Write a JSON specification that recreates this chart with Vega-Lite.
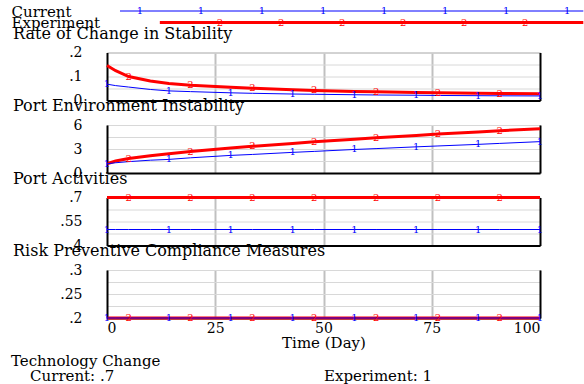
{
  "$schema": "https://vega.github.io/schema/vega-lite/v6.json",
  "padding": {"left": 11, "top": 4, "right": 0, "bottom": 0},
  "background": "white",
  "datasets": {
    "series": [
      {"t": 0, "stab_c": 0.068, "stab_e": 0.146, "env_c": 1.15, "env_e": 1.15, "act_c": 0.5, "act_e": 0.7, "risk_c": 0.2, "risk_e": 0.2},
      {"t": 2, "stab_c": 0.062, "stab_e": 0.124, "env_c": 1.28, "env_e": 1.5, "act_c": 0.5, "act_e": 0.7, "risk_c": 0.2, "risk_e": 0.2},
      {"t": 5, "stab_c": 0.056, "stab_e": 0.1, "env_c": 1.42, "env_e": 1.8, "act_c": 0.5, "act_e": 0.7, "risk_c": 0.2, "risk_e": 0.2},
      {"t": 10, "stab_c": 0.046, "stab_e": 0.081, "env_c": 1.6, "env_e": 2.15, "act_c": 0.5, "act_e": 0.7, "risk_c": 0.2, "risk_e": 0.2},
      {"t": 14.29, "stab_c": 0.04, "stab_e": 0.071, "env_c": 1.7, "env_e": 2.4, "act_c": 0.5, "act_e": 0.7, "risk_c": 0.2, "risk_e": 0.2},
      {"t": 19.29, "stab_c": 0.037, "stab_e": 0.064, "env_c": 1.9, "env_e": 2.68, "act_c": 0.5, "act_e": 0.7, "risk_c": 0.2, "risk_e": 0.2},
      {"t": 28.57, "stab_c": 0.032, "stab_e": 0.055, "env_c": 2.2, "env_e": 3.12, "act_c": 0.5, "act_e": 0.7, "risk_c": 0.2, "risk_e": 0.2},
      {"t": 33.57, "stab_c": 0.03, "stab_e": 0.051, "env_c": 2.32, "env_e": 3.33, "act_c": 0.5, "act_e": 0.7, "risk_c": 0.2, "risk_e": 0.2},
      {"t": 42.86, "stab_c": 0.027, "stab_e": 0.045, "env_c": 2.58, "env_e": 3.7, "act_c": 0.5, "act_e": 0.7, "risk_c": 0.2, "risk_e": 0.2},
      {"t": 47.86, "stab_c": 0.026, "stab_e": 0.042, "env_c": 2.7, "env_e": 3.9, "act_c": 0.5, "act_e": 0.7, "risk_c": 0.2, "risk_e": 0.2},
      {"t": 57.14, "stab_c": 0.024, "stab_e": 0.038, "env_c": 2.94, "env_e": 4.22, "act_c": 0.5, "act_e": 0.7, "risk_c": 0.2, "risk_e": 0.2},
      {"t": 62.14, "stab_c": 0.023, "stab_e": 0.036, "env_c": 3.05, "env_e": 4.4, "act_c": 0.5, "act_e": 0.7, "risk_c": 0.2, "risk_e": 0.2},
      {"t": 71.43, "stab_c": 0.022, "stab_e": 0.033, "env_c": 3.27, "env_e": 4.7, "act_c": 0.5, "act_e": 0.7, "risk_c": 0.2, "risk_e": 0.2},
      {"t": 76.43, "stab_c": 0.021, "stab_e": 0.032, "env_c": 3.38, "env_e": 4.86, "act_c": 0.5, "act_e": 0.7, "risk_c": 0.2, "risk_e": 0.2},
      {"t": 85.71, "stab_c": 0.02, "stab_e": 0.03, "env_c": 3.58, "env_e": 5.13, "act_c": 0.5, "act_e": 0.7, "risk_c": 0.2, "risk_e": 0.2},
      {"t": 90.71, "stab_c": 0.0195, "stab_e": 0.029, "env_c": 3.7, "env_e": 5.28, "act_c": 0.5, "act_e": 0.7, "risk_c": 0.2, "risk_e": 0.2},
      {"t": 100, "stab_c": 0.019, "stab_e": 0.028, "env_c": 3.92, "env_e": 5.52, "act_c": 0.5, "act_e": 0.7, "risk_c": 0.2, "risk_e": 0.2}
    ],
    "legendLine": [
      {"series": "Current", "t": 3},
      {"series": "Current", "t": 110},
      {"series": "Experiment", "t": 12.2},
      {"series": "Experiment", "t": 110}
    ],
    "legendMarks": [
      {"series": "Current", "t": 7.6}, {"series": "Current", "t": 21.7}, {"series": "Current", "t": 35.8}, {"series": "Current", "t": 49.9},
      {"series": "Current", "t": 64.0}, {"series": "Current", "t": 78.1}, {"series": "Current", "t": 92.2}, {"series": "Current", "t": 106.3},
      {"series": "Experiment", "t": 26.1}, {"series": "Experiment", "t": 40.2}, {"series": "Experiment", "t": 54.3},
      {"series": "Experiment", "t": 68.4}, {"series": "Experiment", "t": 82.5}, {"series": "Experiment", "t": 96.6}
    ]
  },
  "data": {"name": "series"},
  "title": {
    "text": "Technology Change",
    "subtitle": "\u200b\u00a0\u00a0\u00a0\u00a0Current: .7\u00a0\u00a0\u00a0\u00a0\u00a0\u00a0\u00a0\u00a0\u00a0\u00a0\u00a0\u00a0\u00a0\u00a0\u00a0\u00a0\u00a0\u00a0\u00a0\u00a0\u00a0\u00a0\u00a0\u00a0\u00a0\u00a0\u00a0\u00a0\u00a0\u00a0\u00a0\u00a0\u00a0\u00a0\u00a0\u00a0\u00a0\u00a0\u00a0\u00a0\u00a0\u00a0\u00a0\u00a0Experiment: 1",
    "orient": "bottom", "anchor": "start", "frame": "bounds", "dx": 0, "offset": 3,
    "fontSize": 15, "subtitleFontSize": 15, "subtitleFont": "DejaVu Serif", "subtitleColor": "black", "subtitlePadding": 0, "baseline": "top"
  },
  "bounds": "flush",
  "spacing": 24.5,
  "vconcat": [
    {
      "width": 433, "height": 16.5,
      "view": {"stroke": null},
      "layer": [
        {
          "data": {"name": "legendLine"},
          "mark": {"type": "line", "clip": false, "strokeCap": "butt"},
          "encoding": {
            "x": {"field": "t", "type": "quantitative", "scale": {"domain": [0, 100], "nice": false}, "axis": null},
            "y": {"field": "series", "type": "nominal", "scale": {"type": "point", "domain": ["Current", "Experiment"], "range": [0, 11.5], "padding": 0},
                  "axis": {"orient": "left", "domain": false, "grid": false, "ticks": false, "labelAlign": "left", "labelBaseline": "middle", "labelPadding": 96, "labelFontSize": 15, "title": null}},
            "color": {"field": "series", "type": "nominal", "scale": {"domain": ["Current", "Experiment"], "range": ["#0000ff", "#ff0000"]}, "legend": null},
            "strokeWidth": {"field": "series", "type": "nominal", "scale": {"domain": ["Current", "Experiment"], "range": [1, 3]}, "legend": null}
          }
        },
        {
          "data": {"name": "legendMarks"},
          "transform": [{"filter": "datum.series == 'Current'"}],
          "mark": {"type": "text", "text": "1", "color": "#0000ff", "clip": false, "fontSize": 10, "baseline": "middle"},
          "encoding": {
            "x": {"field": "t", "type": "quantitative"},
            "y": {"field": "series", "type": "nominal"}
          }
        },
        {
          "data": {"name": "legendMarks"},
          "transform": [{"filter": "datum.series == 'Experiment'"}],
          "mark": {"type": "text", "text": "2", "color": "#ff0000", "clip": false, "fontSize": 10, "baseline": "middle"},
          "encoding": {
            "x": {"field": "t", "type": "quantitative"},
            "y": {"field": "series", "type": "nominal"}
          }
        }
      ]
    },
    {
      "width": 433, "height": 48,
      "title": {"text": "Rate of Change in Stability"},
      "resolve": {"axis": {"y": "independent"}},
      "layer": [
        {"mark": {"type": "line", "color": "#ff0000", "strokeWidth": 3, "clip": false},
         "encoding": {
           "x": {"field": "t", "type": "quantitative", "scale": {"domain": [0, 100], "nice": false},
                 "axis": {"values": [0, 25, 50, 75, 100], "labels": false, "title": null, "grid": true, "gridWidth": 2,
                          "gridColor": {"condition": {"test": "datum.value == 0 || datum.value == 100", "value": "transparent"}, "value": "#c0c0c0"}}},
           "y": {"field": "stab_e", "type": "quantitative", "scale": {"domain": [0, 0.2], "nice": false},
                 "axis": {"values": [0, 0.05, 0.1, 0.15, 0.2], "title": null, "grid": true,
                          "labelExpr": "datum.value == 0 ? '0' : datum.value == 0.1 ? '.1' : datum.value == 0.2 ? '.2' : ''"}}
         }},
        {"mark": {"type": "line", "color": "#0000ff", "strokeWidth": 1, "clip": false},
         "encoding": {
           "x": {"field": "t", "type": "quantitative"},
           "y": {"field": "stab_c", "type": "quantitative", "axis": {"orient": "right", "labels": false, "grid": false, "title": null}}
         }},
        {"transform": [{"filter": "indexof([5,19.29,33.57,47.86,62.14,76.43,90.71], datum.t) >= 0"}],
         "mark": {"type": "text", "text": "2", "color": "#ff0000", "fontSize": 10, "baseline": "middle", "clip": false},
         "encoding": {"x": {"field": "t", "type": "quantitative"}, "y": {"field": "stab_e", "type": "quantitative", "axis": null}}},
        {"transform": [{"filter": "indexof([0,14.29,28.57,42.86,57.14,71.43,85.71,100], datum.t) >= 0"}],
         "mark": {"type": "text", "text": "1", "color": "#0000ff", "fontSize": 10, "baseline": "middle", "clip": false},
         "encoding": {"x": {"field": "t", "type": "quantitative"}, "y": {"field": "stab_c", "type": "quantitative", "axis": null}}}
      ]
    },
    {
      "width": 433, "height": 48,
      "title": {"text": "Port Environment Instability"},
      "resolve": {"axis": {"y": "independent"}},
      "layer": [
        {"mark": {"type": "line", "color": "#ff0000", "strokeWidth": 3, "clip": false},
         "encoding": {
           "x": {"field": "t", "type": "quantitative", "scale": {"domain": [0, 100], "nice": false},
                 "axis": {"values": [0, 25, 50, 75, 100], "labels": false, "title": null, "grid": true, "gridWidth": 2,
                          "gridColor": {"condition": {"test": "datum.value == 0 || datum.value == 100", "value": "transparent"}, "value": "#c0c0c0"}}},
           "y": {"field": "env_e", "type": "quantitative", "scale": {"domain": [0, 6], "nice": false},
                 "axis": {"values": [0, 1.5, 3, 4.5, 6], "title": null, "grid": true,
                          "labelExpr": "datum.value == 0 ? '0' : datum.value == 3 ? '3' : datum.value == 6 ? '6' : ''"}}
         }},
        {"mark": {"type": "line", "color": "#0000ff", "strokeWidth": 1, "clip": false},
         "encoding": {
           "x": {"field": "t", "type": "quantitative"},
           "y": {"field": "env_c", "type": "quantitative", "axis": {"orient": "right", "labels": false, "grid": false, "title": null}}
         }},
        {"transform": [{"filter": "indexof([5,19.29,33.57,47.86,62.14,76.43,90.71], datum.t) >= 0"}],
         "mark": {"type": "text", "text": "2", "color": "#ff0000", "fontSize": 10, "baseline": "middle", "clip": false},
         "encoding": {"x": {"field": "t", "type": "quantitative"}, "y": {"field": "env_e", "type": "quantitative", "axis": null}}},
        {"transform": [{"filter": "indexof([0,14.29,28.57,42.86,57.14,71.43,85.71,100], datum.t) >= 0"}],
         "mark": {"type": "text", "text": "1", "color": "#0000ff", "fontSize": 10, "baseline": "middle", "clip": false},
         "encoding": {"x": {"field": "t", "type": "quantitative"}, "y": {"field": "env_c", "type": "quantitative", "axis": null}}}
      ]
    },
    {
      "width": 433, "height": 48,
      "title": {"text": "Port Activities"},
      "resolve": {"axis": {"y": "independent"}},
      "layer": [
        {"mark": {"type": "line", "color": "#ff0000", "strokeWidth": 3, "clip": false},
         "encoding": {
           "x": {"field": "t", "type": "quantitative", "scale": {"domain": [0, 100], "nice": false},
                 "axis": {"values": [0, 25, 50, 75, 100], "labels": false, "title": null, "grid": true, "gridWidth": 2,
                          "gridColor": {"condition": {"test": "datum.value == 0 || datum.value == 100", "value": "transparent"}, "value": "#c0c0c0"}}},
           "y": {"field": "act_e", "type": "quantitative", "scale": {"domain": [0.4, 0.7], "nice": false, "zero": false},
                 "axis": {"values": [0.4, 0.475, 0.55, 0.625, 0.7], "title": null, "grid": true,
                          "labelExpr": "datum.value == 0.4 ? '.4' : datum.value == 0.55 ? '.55' : datum.value == 0.7 ? '.7' : ''"}}
         }},
        {"mark": {"type": "line", "color": "#0000ff", "strokeWidth": 1, "clip": false},
         "encoding": {
           "x": {"field": "t", "type": "quantitative"},
           "y": {"field": "act_c", "type": "quantitative", "axis": {"orient": "right", "labels": false, "grid": false, "title": null}}
         }},
        {"transform": [{"filter": "indexof([5,19.29,33.57,47.86,62.14,76.43,90.71], datum.t) >= 0"}],
         "mark": {"type": "text", "text": "2", "color": "#ff0000", "fontSize": 10, "baseline": "middle", "clip": false},
         "encoding": {"x": {"field": "t", "type": "quantitative"}, "y": {"field": "act_e", "type": "quantitative", "axis": null}}},
        {"transform": [{"filter": "indexof([0,14.29,28.57,42.86,57.14,71.43,85.71,100], datum.t) >= 0"}],
         "mark": {"type": "text", "text": "1", "color": "#0000ff", "fontSize": 10, "baseline": "middle", "clip": false},
         "encoding": {"x": {"field": "t", "type": "quantitative"}, "y": {"field": "act_c", "type": "quantitative", "axis": null}}}
      ]
    },
    {
      "width": 433, "height": 48,
      "title": {"text": "Risk Preventive Compliance Measures"},
      "resolve": {"axis": {"y": "independent"}},
      "layer": [
        {"mark": {"type": "line", "color": "#ff0000", "strokeWidth": 3, "clip": false},
         "encoding": {
           "x": {"field": "t", "type": "quantitative", "scale": {"domain": [0, 100], "nice": false},
                 "axis": {"values": [0, 25, 50, 75, 100], "labels": true, "title": "Time (Day)", "grid": true, "gridWidth": 2,
                          "gridColor": {"condition": {"test": "datum.value == 0 || datum.value == 100", "value": "transparent"}, "value": "#c0c0c0"}}},
           "y": {"field": "risk_e", "type": "quantitative", "scale": {"domain": [0.2, 0.3], "nice": false, "zero": false},
                 "axis": {"values": [0.2, 0.225, 0.25, 0.275, 0.3], "title": null, "grid": true,
                          "labelExpr": "datum.value == 0.2 ? '.2' : datum.value == 0.25 ? '.25' : datum.value == 0.3 ? '.3' : ''"}}
         }},
        {"mark": {"type": "line", "color": "#0000ff", "strokeWidth": 1, "clip": false},
         "encoding": {
           "x": {"field": "t", "type": "quantitative"},
           "y": {"field": "risk_c", "type": "quantitative", "axis": {"orient": "right", "labels": false, "grid": false, "title": null}}
         }},
        {"transform": [{"filter": "indexof([5,19.29,33.57,47.86,62.14,76.43,90.71], datum.t) >= 0"}],
         "mark": {"type": "text", "text": "2", "color": "#ff0000", "fontSize": 10, "baseline": "middle", "clip": false},
         "encoding": {"x": {"field": "t", "type": "quantitative"}, "y": {"field": "risk_e", "type": "quantitative", "axis": null}}},
        {"transform": [{"filter": "indexof([0,14.29,28.57,42.86,57.14,71.43,85.71,100], datum.t) >= 0"}],
         "mark": {"type": "text", "text": "1", "color": "#0000ff", "fontSize": 10, "baseline": "middle", "clip": false},
         "encoding": {"x": {"field": "t", "type": "quantitative"}, "y": {"field": "risk_c", "type": "quantitative", "axis": null}}}
      ]
    }
  ],
  "config": {
    "font": "DejaVu Serif",
    "view": {"stroke": "#9a9a9a", "strokeWidth": 1},
    "axis": {"ticks": false, "tickSize": 0, "domainColor": "black", "domainWidth": 2, "labelColor": "black", "labelFontSize": 14,
             "labelPadding": 25, "labelFont": "DejaVu Serif", "titleFont": "DejaVu Serif", "titleColor": "black", "titleFontWeight": "normal",
             "titleFontSize": 15, "gridColor": "#d8d8d8", "gridWidth": 1},
    "axisX": {"labelPadding": 3, "titlePadding": 0, "labelBaseline": "top"},
    "title": {"font": "DejaVu Serif", "fontSize": 16, "fontWeight": "normal", "color": "black", "anchor": "start", "frame": "group", "dx": -94, "offset": 0, "baseline": "alphabetic"}
  }
}
